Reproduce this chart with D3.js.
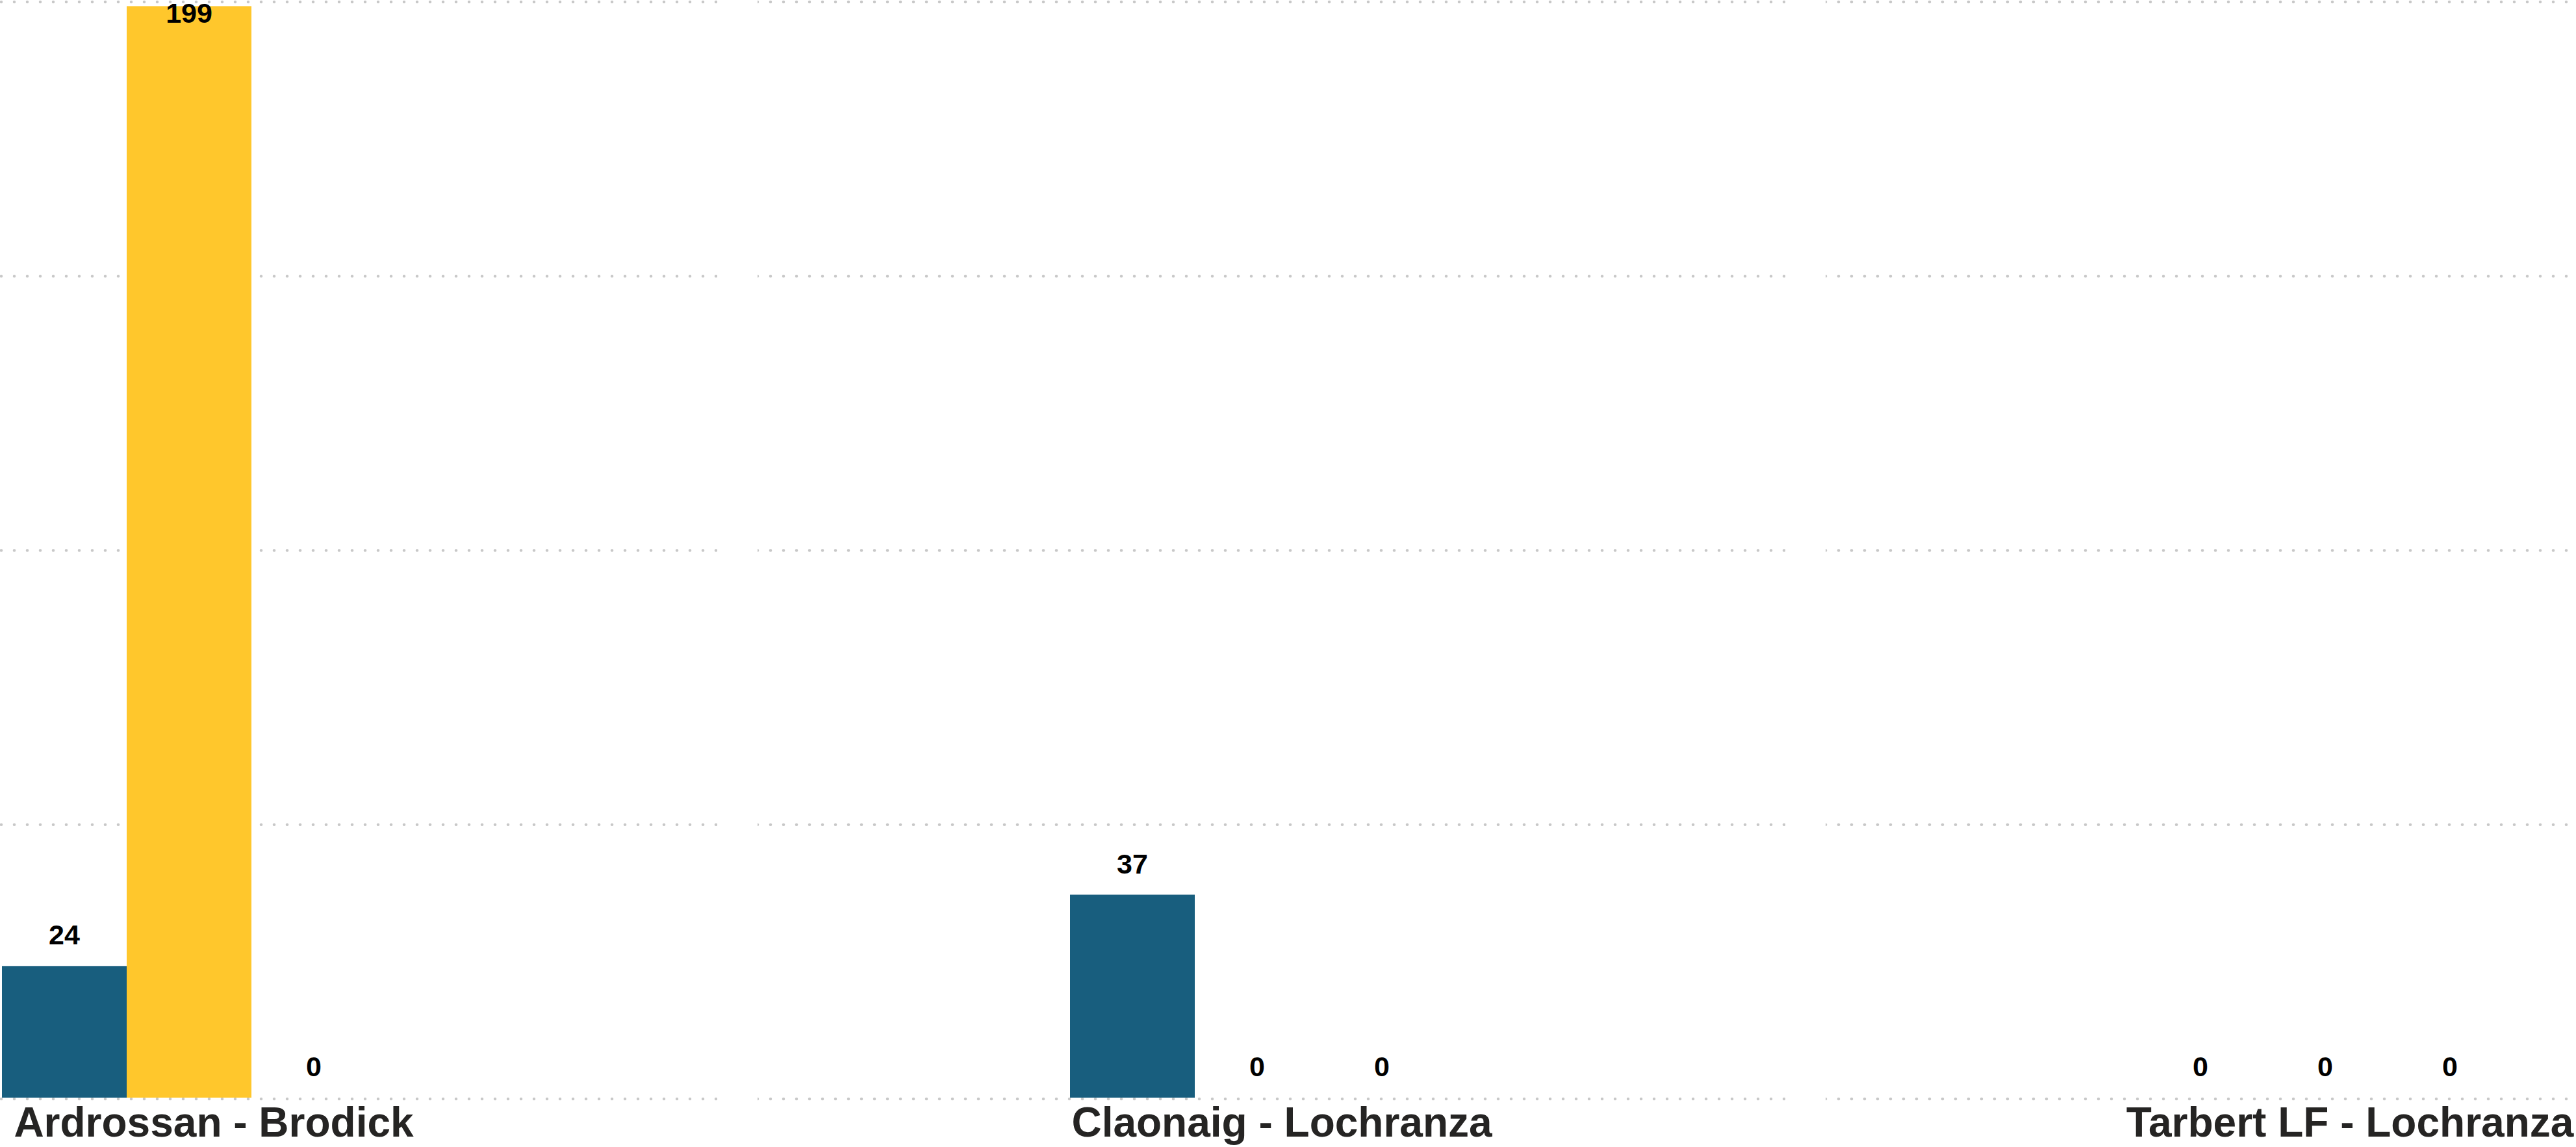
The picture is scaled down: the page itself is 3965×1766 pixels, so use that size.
<!DOCTYPE html>
<html>
<head>
<meta charset="utf-8">
<script src="https://cdn.jsdelivr.net/npm/d3@7"></script>
<style>
  html, body { margin: 0; padding: 0; background: #ffffff; }
  svg { display: block; }
</style>
</head>
<body>
<svg id="chart"></svg>
<script>
// ---- data ----
const routes = ["Ardrossan - Brodick", "Claonaig - Lochranza", "Tarbert LF - Lochranza"];
const seriesNames = ["Series 1", "Series 2", "Series 3"];
const series1Values = [24, 37, 0];
const series2Values = [199, 0, 0];
const series3Values = [0, 0, 0];
const yTicks = [0, 50, 100, 150, 200];
const seriesColors = ["#185E7E", "#FFC72C", "#A0A0A0"];

// ---- layout ----
const W = 3965, H = 1766;
const panelStep = 1644, panelWidth = 1582, firstPanelStart = -478;

const svg = d3.select("#chart").attr("width", W).attr("height", H);
svg.append("rect").attr("width", W).attr("height", H).attr("fill", "#ffffff");

const xRoute = d3.scaleBand()
  .domain(routes)
  .range([firstPanelStart, firstPanelStart + panelStep * (routes.length - 1) + panelWidth])
  .paddingInner((panelStep - panelWidth) / panelStep)
  .paddingOuter(0)
  .align(0);

const xSeries = d3.scaleBand()
  .domain(seriesNames)
  .range([481, 481 + 192 * 3])
  .padding(0);

const y = d3.scaleLinear().domain([0, 200]).range([1690, 1]);
const color = d3.scaleOrdinal().domain(seriesNames).range(seriesColors);

const valuesBySeries = [series1Values, series2Values, series3Values];
const rows = routes.map((r, i) => ({
  route: r,
  values: seriesNames.map((s, j) => ({ series: s, value: valuesBySeries[j][i] }))
}));

const defs = svg.append("defs");
const panels = svg.selectAll("g.panel").data(rows).enter().append("g")
  .attr("class", "panel")
  .attr("transform", d => `translate(${xRoute(d.route)},0)`);

panels.each(function(d, i) {
  defs.append("clipPath").attr("id", "clip" + i)
    .append("rect").attr("x", 0).attr("y", 0)
    .attr("width", xRoute.bandwidth()).attr("height", H);
});

// gridlines (dotted)
panels.append("g").attr("clip-path", (d, i) => `url(#clip${i})`)
  .selectAll("line").data(yTicks).enter().append("line")
  .attr("x1", 0).attr("x2", xRoute.bandwidth())
  .attr("y1", t => y(t) + 2).attr("y2", t => y(t) + 2)
  .attr("stroke", "#c8c8c8")
  .attr("stroke-width", 4.5)
  .attr("stroke-linecap", "round")
  .attr("stroke-dasharray", "0 20");

// bars
panels.selectAll("rect.bar").data(d => d.values).enter().append("rect")
  .attr("class", "bar")
  .attr("x", v => xSeries(v.series))
  .attr("width", xSeries.bandwidth())
  .attr("y", v => y(v.value))
  .attr("height", v => y(0) - y(v.value))
  .attr("fill", v => color(v.series));

// value labels
panels.selectAll("text.val").data(d => d.values).enter().append("text")
  .attr("class", "val")
  .attr("x", v => xSeries(v.series) + xSeries.bandwidth() / 2)
  .attr("y", v => Math.max(y(v.value) - 33, 35))
  .attr("text-anchor", "middle")
  .attr("font-family", "'Liberation Sans', Arial, sans-serif")
  .attr("font-weight", "bold")
  .attr("font-size", 43)
  .attr("fill", "#000000")
  .text(v => v.value);

// category labels
panels.append("text")
  .attr("x", xRoute.bandwidth() / 2 + 16)
  .attr("y", 1750)
  .attr("text-anchor", "middle")
  .attr("font-family", "'Liberation Sans', Arial, sans-serif")
  .attr("font-weight", "bold")
  .attr("font-size", 64)
  .attr("fill", "#252423")
  .text(d => d.route);
</script>
</body>
</html>
